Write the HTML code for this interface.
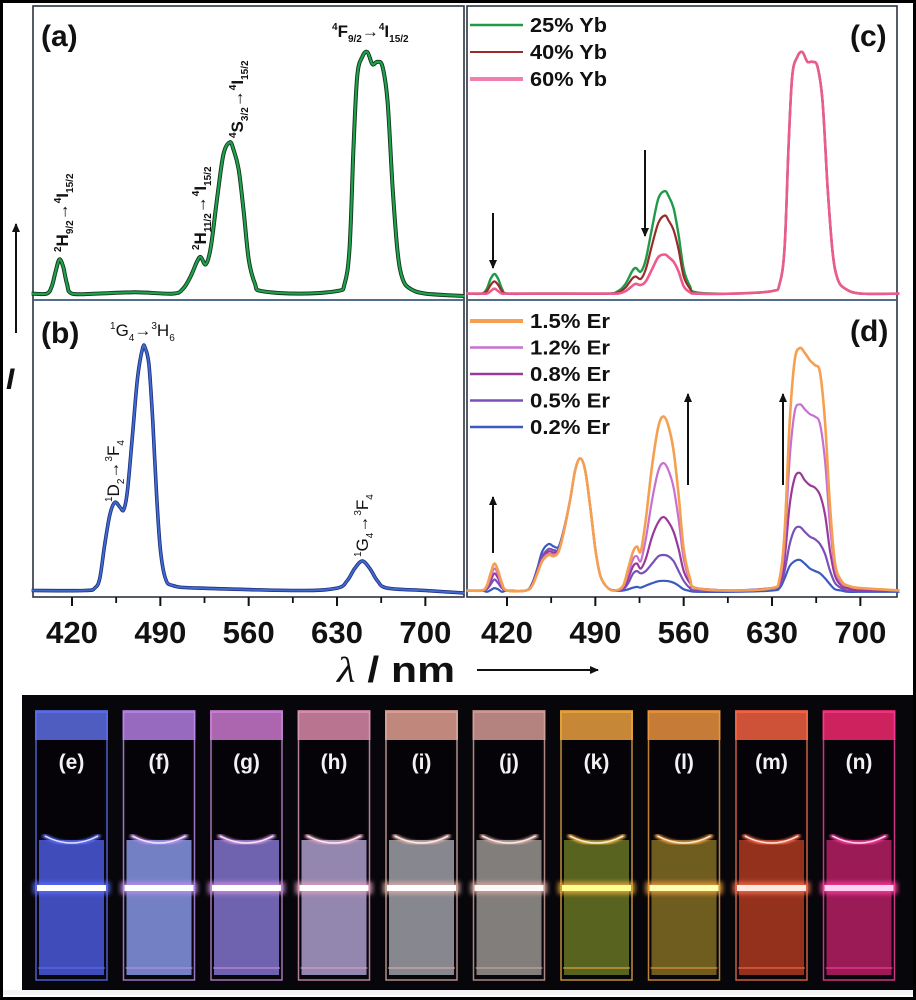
<!DOCTYPE html>
<html><head><meta charset="utf-8"><style>
html,body{margin:0;padding:0;background:#000;}
svg{display:block;}
text{font-family:"Liberation Sans",sans-serif;}
</style></head><body>
<svg id="fig" width="916" height="1000" viewBox="0 0 916 1000" xmlns="http://www.w3.org/2000/svg">
<defs>
<filter id="blur2" x="-20%" y="-200%" width="140%" height="500%"><feGaussianBlur stdDeviation="2.5"/></filter>
<filter id="blur1"><feGaussianBlur stdDeviation="1.2"/></filter>
<marker id="ah" markerWidth="10" markerHeight="10" refX="8" refY="5" orient="auto" markerUnits="userSpaceOnUse"><path d="M0,1 L9,5 L0,9 Z" fill="#111"/></marker>
</defs>
<rect x="3" y="3" width="910" height="994" fill="#fff"/>
<g id="charts"></g>
<g id="photo"></g>
</svg>
<script>
// ---------- data ----------
const wlA = [388,400,404,407,410,413,416,420,440,470,500,508,514,519,522,526,530,535,540,545,548,552,556,560,565,570,600,630,636,640,643,646,650,654,658,662,666,670,674,678,682,688,700,731];
const intA = [0.01,0.01,0.04,0.10,0.15,0.12,0.05,0.01,0.01,0.015,0.01,0.03,0.08,0.14,0.16,0.13,0.20,0.40,0.58,0.63,0.60,0.52,0.35,0.15,0.05,0.02,0.01,0.02,0.05,0.20,0.60,0.90,0.98,1.0,0.95,0.96,0.94,0.80,0.45,0.18,0.07,0.03,0.01,0.0];
const wlB = [388,430,438,442,446,450,454,458,461,464,468,472,476,478,481,484,487,490,494,500,520,600,630,638,644,650,656,662,670,700,731];
const intB = [0.01,0.01,0.02,0.06,0.20,0.32,0.37,0.35,0.34,0.42,0.65,0.88,1.0,1.0,0.93,0.70,0.40,0.18,0.06,0.03,0.02,0.01,0.02,0.05,0.10,0.13,0.10,0.05,0.02,0.01,0.0];
const wlC = [388,400,404,407,410,413,416,420,440,470,500,508,514,519,522,526,530,535,540,545,548,552,556,560,565,570,600,630,636,640,643,646,650,654,658,662,666,670,674,678,682,688,700,731];
const yb25 = [0.01,0.01,0.03,0.07,0.09,0.07,0.03,0.01,0.01,0.01,0.01,0.02,0.05,0.10,0.115,0.10,0.15,0.28,0.40,0.43,0.41,0.36,0.25,0.11,0.04,0.015,0.01,0.02,0.05,0.20,0.60,0.90,0.98,1.0,0.96,0.96,0.94,0.80,0.45,0.18,0.07,0.03,0.01,0.01];
const yb40 = [0.01,0.01,0.02,0.045,0.06,0.045,0.02,0.01,0.01,0.01,0.01,0.015,0.035,0.07,0.08,0.07,0.11,0.21,0.30,0.33,0.31,0.27,0.19,0.08,0.03,0.01,0.01,0.02,0.05,0.20,0.60,0.90,0.98,1.0,0.96,0.96,0.94,0.80,0.45,0.18,0.07,0.03,0.01,0.01];
const yb60 = [0.01,0.01,0.01,0.02,0.03,0.02,0.01,0.01,0.01,0.01,0.01,0.01,0.02,0.04,0.05,0.045,0.06,0.11,0.16,0.17,0.16,0.14,0.10,0.04,0.015,0.01,0.01,0.02,0.05,0.20,0.60,0.90,0.98,1.0,0.96,0.96,0.94,0.80,0.45,0.18,0.07,0.03,0.01,0.01];
const ybLabels = ["25% Yb","40% Yb","60% Yb"];
const wlD = [388,400,404,407,410,413,416,420,435,440,444,448,453,457,461,465,470,474,478,482,486,490,494,500,506,512,516,520,523,526,530,535,540,544,548,552,556,560,565,570,600,630,636,640,644,648,652,656,660,664,668,672,676,680,685,690,700,731];
const er15 = [0.01,0.01,0.03,0.08,0.12,0.09,0.04,0.01,0.01,0.03,0.08,0.13,0.155,0.15,0.17,0.25,0.38,0.50,0.55,0.50,0.35,0.18,0.07,0.02,0.01,0.03,0.10,0.17,0.19,0.17,0.30,0.52,0.68,0.72,0.68,0.58,0.40,0.18,0.06,0.02,0.01,0.02,0.06,0.25,0.70,0.95,1.0,0.98,0.95,0.93,0.90,0.70,0.35,0.12,0.05,0.03,0.02,0.01];
const er12 = [0.01,0.01,0.025,0.065,0.10,0.075,0.03,0.01,0.01,0.03,0.08,0.135,0.16,0.155,0.17,0.25,0.38,0.50,0.55,0.50,0.35,0.18,0.07,0.02,0.01,0.025,0.08,0.14,0.15,0.13,0.22,0.38,0.50,0.53,0.50,0.43,0.30,0.14,0.05,0.02,0.01,0.02,0.05,0.20,0.55,0.74,0.77,0.75,0.73,0.72,0.69,0.54,0.27,0.10,0.04,0.03,0.02,0.01];
const er08 = [0.01,0.01,0.02,0.05,0.08,0.06,0.025,0.01,0.01,0.035,0.09,0.14,0.17,0.165,0.175,0.25,0.38,0.50,0.55,0.50,0.35,0.18,0.07,0.02,0.01,0.02,0.06,0.11,0.12,0.10,0.14,0.23,0.29,0.31,0.29,0.25,0.18,0.09,0.04,0.02,0.01,0.02,0.04,0.14,0.36,0.47,0.49,0.46,0.44,0.43,0.40,0.32,0.17,0.07,0.03,0.02,0.01,0.01];
const er05 = [0.01,0.01,0.015,0.035,0.055,0.04,0.02,0.01,0.01,0.035,0.095,0.15,0.18,0.175,0.18,0.255,0.38,0.50,0.55,0.50,0.35,0.18,0.07,0.02,0.01,0.015,0.04,0.08,0.09,0.08,0.09,0.12,0.15,0.155,0.15,0.13,0.09,0.05,0.02,0.01,0.01,0.02,0.03,0.09,0.20,0.26,0.27,0.25,0.23,0.22,0.20,0.16,0.09,0.04,0.02,0.01,0.01,0.01];
const er02 = [0.01,0.01,0.005,0.012,0.02,0.015,0.005,0.01,0.01,0.04,0.10,0.17,0.20,0.19,0.19,0.26,0.38,0.50,0.55,0.50,0.35,0.18,0.07,0.02,0.01,0.01,0.015,0.022,0.025,0.022,0.03,0.04,0.048,0.05,0.048,0.042,0.03,0.015,0.008,0.005,0.005,0.01,0.02,0.06,0.11,0.13,0.135,0.12,0.10,0.09,0.08,0.06,0.035,0.015,0.01,0.005,0.005,0.005];
const erLabels = ["1.5% Er","1.2% Er","0.8% Er","0.5% Er","0.2% Er"];
const tickLabels = [420,490,560,630,700];
const minorTicks = [455,525,595,665];
const photoLabels = ["(e)","(f)","(g)","(h)","(i)","(j)","(k)","(l)","(m)","(n)"];

// ---------- helpers ----------
const NS="http://www.w3.org/2000/svg";
const charts=document.getElementById('charts');
function el(tag,attrs,parent){const e=document.createElementNS(NS,tag);for(const k in attrs)e.setAttribute(k,attrs[k]);(parent||charts).appendChild(e);return e;}
const PX=1.262;
function xL(nm){return 72+(nm-420)*PX;}
function xR(nm){return 507+(nm-420)*PX;}
function yTop(v){return 296-v*244;}
function yBot(v){return 593-v*245;}
function smoothPath(pts){
  let d=`M${pts[0][0].toFixed(1)},${pts[0][1].toFixed(1)}`;
  for(let i=0;i<pts.length-1;i++){
    const p0=pts[Math.max(0,i-1)],p1=pts[i],p2=pts[i+1],p3=pts[Math.min(pts.length-1,i+2)];
    const c1x=p1[0]+(p2[0]-p0[0])/6,c1y=p1[1]+(p2[1]-p0[1])/6;
    const c2x=p2[0]-(p3[0]-p1[0])/6,c2y=p2[1]-(p3[1]-p1[1])/6;
    d+=` C${c1x.toFixed(1)},${c1y.toFixed(1)} ${c2x.toFixed(1)},${c2y.toFixed(1)} ${p2[0].toFixed(1)},${p2[1].toFixed(1)}`;
  }
  return d;
}
function series(wl,vals,xf,yf,color,w,name){
  const pts=wl.map((n,i)=>[xf(n),yf(vals[i])]);
  const p=el('path',{d:smoothPath(pts),fill:'none',stroke:color,'stroke-width':w,'stroke-linejoin':'round'});
  
  
  return p;
}

// panel frames
const fr=el('g',{});


el('rect',{x:33,y:6,width:431,height:591,fill:'none',stroke:'#2b3440','stroke-width':1.6},fr);
el('rect',{x:467,y:6,width:430,height:591,fill:'none',stroke:'#2b3440','stroke-width':1.6},fr);
el('line',{x1:33,y1:300,x2:464,y2:300,stroke:'#3a5a7a','stroke-width':1.8},fr);
el('line',{x1:467,y1:300,x2:897,y2:300,stroke:'#3a5a7a','stroke-width':1.8},fr);

// series
series(wlA,intA,xL,yTop,'#16341f',4,'series-a-outline');
series(wlA,intA,xL,yTop,'#1ea24c',2.2,'series-a-green');
series(wlB,intB,xL,yBot,'#1f2c78',3.6,'series-b-outline');
series(wlB,intB,xL,yBot,'#3f6ad0',2.0,'series-b-blue');
series(wlC,yb25,xR,yTop,'#1f9a48',2.4,'series-c-25-yb');
series(wlC,yb40,xR,yTop,'#9a2a2a',2.2,'series-c-40-yb');
series(wlC,yb60,xR,yTop,'#ec5a8e',2.6,'series-c-60-yb');
series(wlD,er02,xR,yBot,'#3a5ac0',2.2,'series-d-0-2-er');
series(wlD,er05,xR,yBot,'#7a50b8',2.2,'series-d-0-5-er');
series(wlD,er08,xR,yBot,'#9a3a98',2.2,'series-d-0-8-er');
series(wlD,er12,xR,yBot,'#c870d0',2.2,'series-d-1-2-er');
series(wlD,er15,xR,yBot,'#f5a050',2.6,'series-d-1-5-er');

// x axes
[xL,xR].forEach((xf,k)=>{
  const g=el('g',{});
  
  
  tickLabels.forEach(t=>{
    el('line',{x1:xf(t),y1:597,x2:xf(t),y2:606,stroke:'#111','stroke-width':2},g);
    const tx=el('text',{x:xf(t),y:643,'text-anchor':'middle','font-size':31,'font-weight':'bold',fill:'#111',textLength:52,lengthAdjust:'spacingAndGlyphs'},g);
    tx.textContent=t;
    
    
  });
  minorTicks.forEach(t=>{el('line',{x1:xf(t),y1:597,x2:xf(t),y2:603,stroke:'#111','stroke-width':1.8},g);});
});
</script>
<script>
function T(html){const g=document.createElementNS(NS,'g');g.innerHTML=html;charts.appendChild(g);return g;}
T(`
<text x="337" y="682" font-size="36" font-weight="bold" fill="#111" textLength="118" lengthAdjust="spacingAndGlyphs"><tspan font-style="italic" font-family="Liberation Serif, serif" font-weight="normal">λ</tspan> / nm</text>
<line x1="477" y1="670" x2="598" y2="670" stroke="#111" stroke-width="2" marker-end="url(#ah)"/>
<line x1="16" y1="333" x2="16" y2="224" stroke="#111" stroke-width="2" marker-end="url(#ah)"/>
<text x="6" y="389" font-size="30" font-weight="bold" font-style="italic" fill="#111">I</text>
<text x="41" y="46" font-size="30" font-weight="bold" fill="#111">(a)</text>
<text x="41" y="343" font-size="30" font-weight="bold" fill="#111">(b)</text>
<text x="850" y="46" font-size="30" font-weight="bold" fill="#111">(c)</text>
<text x="850" y="341" font-size="30" font-weight="bold" fill="#111">(d)</text>
<g font-weight="bold" fill="#111" font-size="17">
<text x="332" y="37"><tspan font-size="10" dy="-7">4</tspan><tspan dy="7">F</tspan><tspan font-size="10" dy="5">9/2</tspan><tspan dy="-5">→</tspan><tspan font-size="10" dy="-7">4</tspan><tspan dy="7">I</tspan><tspan font-size="10" dy="5">15/2</tspan></text>
<text transform="translate(68,252) rotate(-90)"><tspan font-size="10" dy="-7">2</tspan><tspan dy="7">H</tspan><tspan font-size="10" dy="5">9/2</tspan><tspan dy="-5">→</tspan><tspan font-size="10" dy="-7">4</tspan><tspan dy="7">I</tspan><tspan font-size="10" dy="5">15/2</tspan></text>
<text transform="translate(206,250) rotate(-90)"><tspan font-size="10" dy="-7">2</tspan><tspan dy="7">H</tspan><tspan font-size="10" dy="5">11/2</tspan><tspan dy="-5">→</tspan><tspan font-size="10" dy="-7">4</tspan><tspan dy="7">I</tspan><tspan font-size="10" dy="5">15/2</tspan></text>
<text transform="translate(243,138) rotate(-90)"><tspan font-size="10" dy="-7">4</tspan><tspan dy="7">S</tspan><tspan font-size="10" dy="5">3/2</tspan><tspan dy="-5">→</tspan><tspan font-size="10" dy="-7">4</tspan><tspan dy="7">I</tspan><tspan font-size="10" dy="5">15/2</tspan></text>
<text x="110" y="336" font-weight="normal"><tspan font-size="10" dy="-7">1</tspan><tspan dy="7">G</tspan><tspan font-size="10" dy="5">4</tspan><tspan dy="-5">→</tspan><tspan font-size="10" dy="-7">3</tspan><tspan dy="7">H</tspan><tspan font-size="10" dy="5">6</tspan></text>
<text transform="translate(119,502) rotate(-90)" font-weight="normal"><tspan font-size="10" dy="-7">1</tspan><tspan dy="7">D</tspan><tspan font-size="10" dy="5">2</tspan><tspan dy="-5">→</tspan><tspan font-size="10" dy="-7">3</tspan><tspan dy="7">F</tspan><tspan font-size="10" dy="5">4</tspan></text>
<text transform="translate(368,557) rotate(-90)" font-weight="normal"><tspan font-size="10" dy="-7">1</tspan><tspan dy="7">G</tspan><tspan font-size="10" dy="5">4</tspan><tspan dy="-5">→</tspan><tspan font-size="10" dy="-7">3</tspan><tspan dy="7">F</tspan><tspan font-size="10" dy="5">4</tspan></text>
</g>
<line x1="493" y1="213" x2="493" y2="268" stroke="#111" stroke-width="2" marker-end="url(#ah)"/>
<line x1="645" y1="150" x2="645" y2="236" stroke="#111" stroke-width="2" marker-end="url(#ah)"/>
<line x1="493" y1="553" x2="493" y2="497" stroke="#111" stroke-width="2" marker-end="url(#ah)"/>
<line x1="688" y1="485" x2="688" y2="394" stroke="#111" stroke-width="2" marker-end="url(#ah)"/>
<line x1="783" y1="485" x2="783" y2="394" stroke="#111" stroke-width="2" marker-end="url(#ah)"/>
`);
// legends
const ybColors=['#1f9a48','#9a2a2a','#f07fb0'];
const ybWidths=[2.4,2,4];
ybLabels.forEach((lab,i)=>{
  const y=25+i*27;
  const g=el('g',{});
  
  
  el('line',{x1:470,y1:y,x2:523,y2:y,stroke:ybColors[i],'stroke-width':ybWidths[i]},g);
  const t=el('text',{x:530,y:y+7,'font-size':20,'font-weight':'bold',fill:'#111',textLength:77,lengthAdjust:'spacingAndGlyphs'},g);
  t.textContent=lab;
});
const erColors=['#f5a050','#c870d0','#9a3a98','#7a50b8','#3a5ac0'];
erLabels.forEach((lab,i)=>{
  const y=321+i*26.5;
  const g=el('g',{});
  
  
  el('line',{x1:470,y1:y,x2:523,y2:y,stroke:erColors[i],'stroke-width':i==0?4:2.4},g);
  const t=el('text',{x:530,y:y+7,'font-size':20,'font-weight':'bold',fill:'#111',textLength:80,lengthAdjust:'spacingAndGlyphs'},g);
  t.textContent=lab;
});

// ---------- photo ----------
const ph=document.getElementById('photo');
function P(tag,attrs,parent){return el(tag,attrs,parent||ph);}
P('rect',{x:22,y:695,width:891,height:295,fill:'#07060a'});
P('rect',{x:3,y:990,width:910,height:5,fill:'#f4f4f4'});
const capC=['#5c6ce0','#b07ce0','#c878cc','#d888a8','#e0a090','#d49a94','#e8a040','#e89040','#f06040','#f0286c'];
const liqC=['#4f5ee6','#8fa0f2','#8a7ad8','#b6a8d8','#a8a8b0','#a09c98','#6c7a24','#8a7224','#b83c22','#c0206a'];
const rimC=['#6070ff','#c090f0','#d090e0','#e0a0c0','#e0b0a8','#d8a8a0','#f0b040','#f0a040','#ff7050','#ff40a0'];
const lineC=['#ffffff','#ffffff','#ffffff','#ffffff','#ffffff','#fff8f8','#ffff90','#ffffb0','#ffe8e0','#ffd0f0'];
photoLabels.forEach((lab,i)=>{
  const x=35+i*87.5, w=73;
  const g=P('g',{});
  
  
  P('rect',{x:x,y:710,width:w,height:30,fill:capC[i],opacity:0.85},g);
  P('rect',{x:x+4,y:740,width:w-8,height:100,fill:'#050308'},g);
  P('rect',{x:x+4,y:840,width:w-8,height:135,fill:liqC[i],opacity:0.8},g);
  P('rect',{x:x+1,y:712,width:w-2,height:268,fill:'none',stroke:rimC[i],'stroke-width':1.5,opacity:0.8},g);
  P('path',{d:`M${x+8},${835} Q${x+w/2},${852} ${x+w-8},${835}`,fill:'none',stroke:rimC[i],'stroke-width':4,filter:'url(#blur1)'},g);
  P('path',{d:`M${x+10},${836} Q${x+w/2},${850} ${x+w-10},${836}`,fill:'none',stroke:'#fff','stroke-width':1.5,opacity:0.8},g);
  P('rect',{x:x-2,y:882,width:w+4,height:12,fill:rimC[i],filter:'url(#blur2)',opacity:0.8},g);
  P('rect',{x:x+2,y:885,width:w-4,height:6,fill:lineC[i]},g);
  P('line',{x1:x+3,y1:968,x2:x+w-3,y2:968,stroke:rimC[i],'stroke-width':1.5,opacity:0.7},g);
  const t=P('text',{x:x+w/2,y:769,'text-anchor':'middle','font-size':21,'font-weight':'bold',fill:'#f2f2f2'},g);
  t.textContent=lab;
  
  
});
</script>
</body></html>
